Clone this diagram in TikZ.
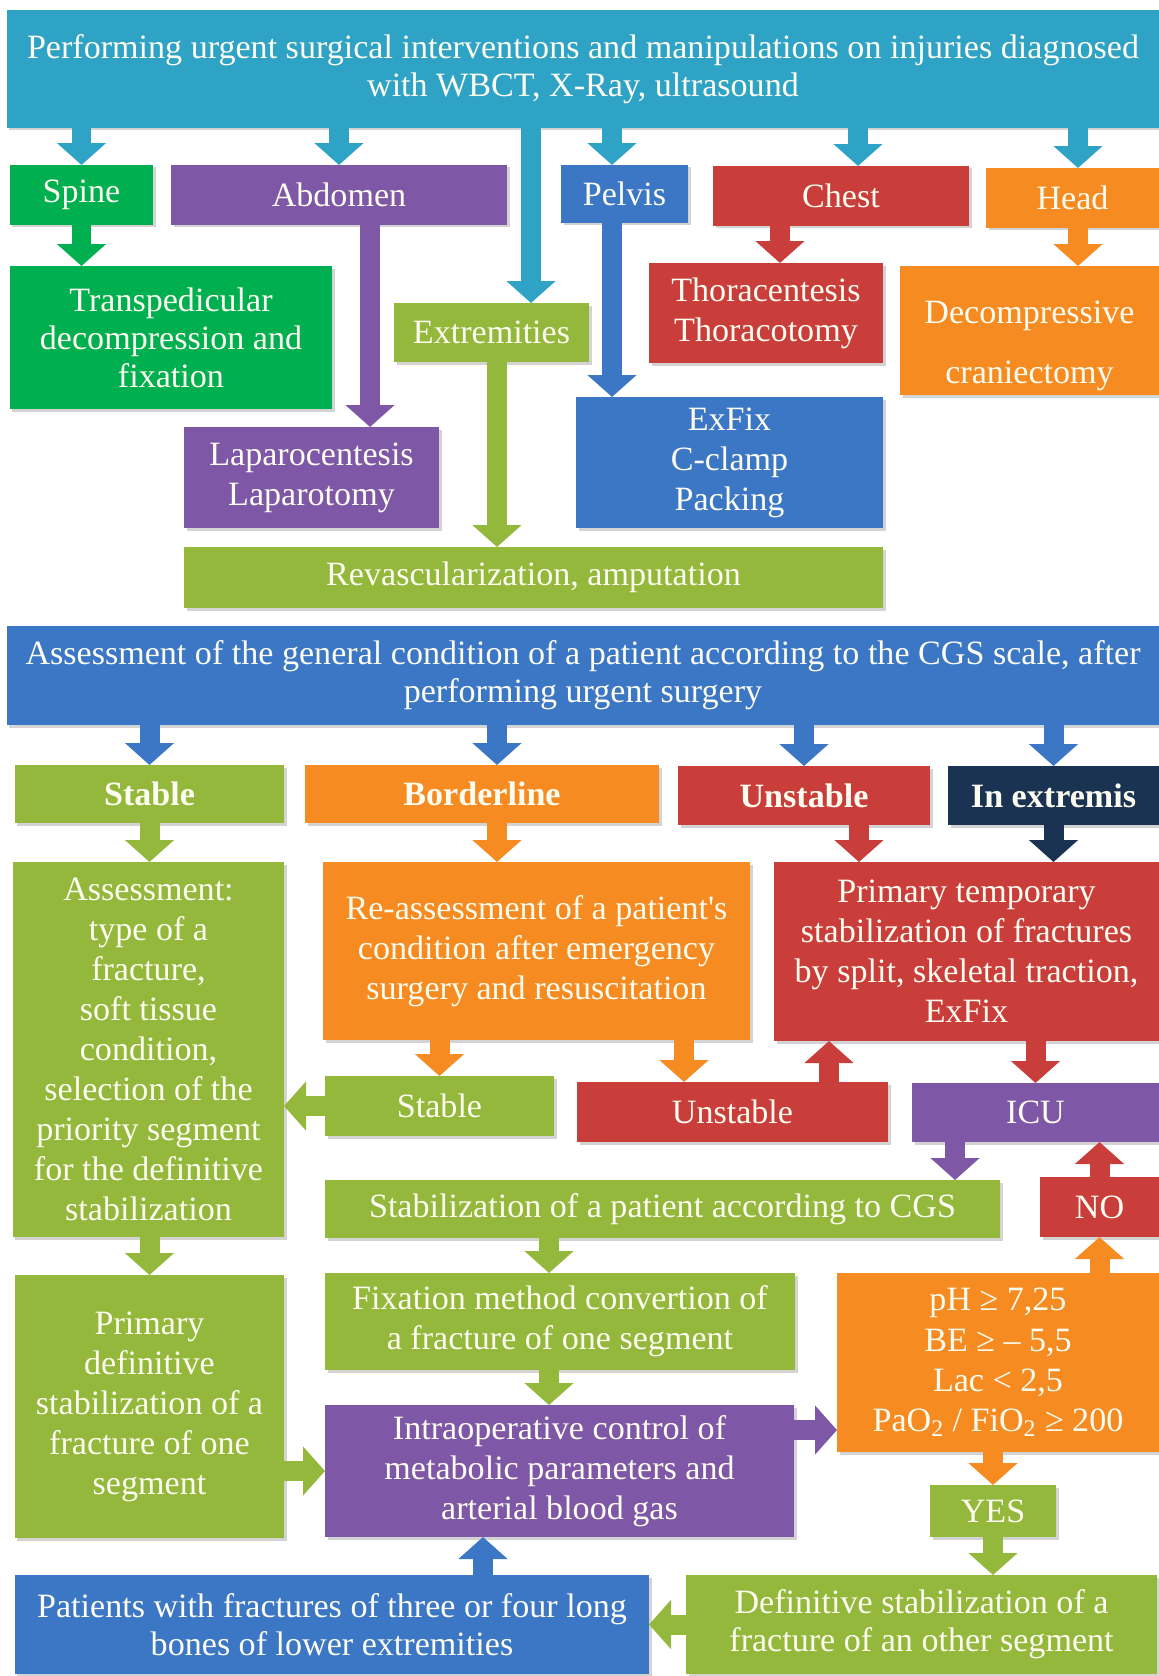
\documentclass[tikz,border=0pt]{standalone}
\usepackage{fontspec}
\setmainfont{Liberation Serif}
\usetikzlibrary{arrows.meta, shadows}

\definecolor{cteal}{RGB}{46,163,198}
\definecolor{cgreen}{RGB}{0,176,80}
\definecolor{cpurple}{RGB}{126,87,166}
\definecolor{cblue}{RGB}{59,119,196}
\definecolor{cred}{RGB}{201,62,58}
\definecolor{corange}{RGB}{246,139,34}
\definecolor{clime}{RGB}{147,184,60}
\definecolor{cnavy}{RGB}{26,51,82}
\definecolor{ctext}{RGB}{253,252,240}

\tikzstyle{block} = [rectangle, inner sep=0pt, outer sep=0pt, text=ctext, align=center,
font=\fontsize{19.4}{22.8}\selectfont, drop shadow={opacity=0.35, shadow xshift=0.05cm, shadow yshift=-0.05cm}]
\tikzstyle{tight} = [font=\fontsize{19.4}{21.6}\selectfont]
\tikzstyle{line} = [draw, line width=0.4cm, -{Triangle[width=0.96cm, length=0.44cm]}]
\tikzset{wh/.style 2 args={minimum width=#1*0.02cm, minimum height=#2*0.02cm}}

\begin{document}
\begin{tikzpicture}[x=0.02cm, y=-0.02cm]
	\useasboundingbox (0,0) rectangle (1159,1676);
	
	% Place nodes
	\node [block, tight, fill=cteal, wh={1152}{118}] (Urgent) at (583,69) {Performing urgent surgical interventions and manipulations on injuries diagnosed\\with WBCT, X-Ray, ultrasound};
	\node [block, fill=cgreen, wh={143}{60}] (Spine) at (81.5,195) {Spine};
	\node [block, fill=cpurple, wh={336}{60}] (Abdomen) at (339,195) {Abdomen};
	\node [block, fill=cblue, wh={127}{58}] (Pelvis) at (624.5,194) {Pelvis};
	\node [block, fill=cred, wh={256}{60}] (Chest) at (841,196) {Chest};
	\node [block, fill=corange, wh={173}{60}] (Head) at (1072.5,198) {Head};
	\node [block, tight, fill=cgreen, wh={322}{143}] (Transp) at (171,337.5) {Transpedicular\\decompression and\\fixation};
	\node [block, fill=clime, wh={195}{59}] (Extrem) at (491.5,332.5) {Extremities};
	\node [block, fill=cred, wh={234}{100}] (Thora) at (766,313) {Thoracentesis\\Thoracotomy};
	\node [block, fill=corange, wh={259}{129}] (Decomp) at (1029.5,330.5) {\mbox{}\\[0.25cm]Decompressive\\[0.4cm]craniectomy};
	\node [block, fill=cpurple, wh={255}{101}] (Laparo) at (311.5,477.5) {Laparocentesis\\Laparotomy};
	\node [block, fill=cblue, wh={307}{131}] (ExFix) at (729.5,462.5) {ExFix\\C-clamp\\Packing};
	\node [block, fill=clime, wh={699}{61}] (Revasc) at (533.5,577.5) {Revascularization, amputation};
	\node [block, tight, fill=cblue, wh={1152}{99}] (CGS) at (583,675.5) {Assessment of the general condition of a patient according to the CGS scale, after\\performing urgent surgery};
	\node [block, fill=clime, wh={269}{58}] (Stable) at (149.5,794) {\textbf{Stable}};
	\node [block, fill=corange, wh={354}{58}] (Border) at (482,794) {\textbf{Borderline}};
	\node [block, fill=cred, wh={252}{59}] (Unstable) at (804,795.5) {\textbf{Unstable}};
	\node [block, fill=cnavy, wh={211}{59}] (Extremis) at (1053.5,795.5) {\textbf{In extremis}};
	\node [block, fill=clime, wh={271}{375}] (AssessL) at (148.5,1049.5) {Assessment:\\type of a\\fracture,\\soft tissue\\condition,\\selection of the\\priority segment\\for the definitive\\stabilization};
	\node [block, fill=corange, wh={427}{178}] (Reassess) at (536.5,951) {Re-assessment of a patient\textquotesingle s\\condition after emergency\\surgery and resuscitation};
	\node [block, fill=cred, wh={385}{179}] (PrimTemp) at (966.5,951.5) {Primary temporary\\stabilization of fractures\\by split, skeletal traction,\\ExFix};
	\node [block, fill=clime, wh={229}{60}] (StableS) at (439.5,1106) {Stable};
	\node [block, fill=cred, wh={311}{60}] (UnstableS) at (732.5,1112) {Unstable};
	\node [block, fill=cpurple, wh={247}{59}] (ICU) at (1035.5,1112.5) {ICU};
	\node [block, fill=clime, wh={675}{58}] (StabCGS) at (662.5,1209) {Stabilization of a patient according to CGS};
	\node [block, fill=cred, wh={119}{60}] (No) at (1099.5,1207) {NO};
	\node [block, fill=clime, wh={269}{263}] (PrimDef) at (149.5,1406.5) {Primary\\definitive\\stabilization of a\\fracture of one\\segment};
	\node [block, fill=clime, wh={470}{97}] (FixConv) at (560,1321.5) {Fixation method convertion of\\a fracture of one segment};
	\node [block, fill=corange, wh={322}{179}] (Gas) at (998,1362.5) {pH ≥ 7,25\\BE ≥ – 5,5\\Lac < 2,5\\PaO\textsubscript{2} / FiO\textsubscript{2} ≥ 200};
	\node [block, fill=cpurple, wh={469}{132}] (Intraop) at (559.5,1471) {Intraoperative control of\\metabolic parameters and\\arterial blood gas};
	\node [block, fill=clime, wh={126}{52}] (Yes) at (993,1511) {YES};
	\node [block, tight, fill=cblue, wh={634}{99}] (Patients) at (332,1624.5) {Patients with fractures of three or four long\\bones of lower extremities};
	\node [block, tight, fill=clime, wh={471}{99}] (DefOther) at (921.5,1624.5) {Definitive stabilization of a\\fracture of an other segment};
	
	% lanes of the arrows
	\coordinate (xExt) at (531,0);
	\coordinate (xPelvis) at (612,0);
	\coordinate (xChest) at (858,0);
	\coordinate (xHead) at (1078,0);
	\coordinate (xAbd) at (370,0);
	\coordinate (xRevasc) at (497,0);
	\coordinate (xThora) at (780,0);
	\coordinate (xBorder) at (497,0);
	\coordinate (xUnst) at (859,0);
	\coordinate (xUnstS) at (684,0);
	\coordinate (xBack) at (829,0);
	\coordinate (xICU) at (955,0);
	\coordinate (xFix) at (549,0);
	\coordinate (xPat) at (483,0);
	\coordinate (yGas) at (0,1430);
	
	%Draw edges
	\path [line, draw=cteal] (Urgent.south -| Spine.north) -- (Spine.north);
	\path [line, draw=cteal] (Urgent.south -| Abdomen.north) -- (Abdomen.north);
	\path [line, draw=cteal] (Urgent.south -| xPelvis) -- (Pelvis.north -| xPelvis);
	\path [line, draw=cteal] (Urgent.south -| xChest) -- (Chest.north -| xChest);
	\path [line, draw=cteal] (Urgent.south -| xHead) -- (Head.north -| xHead);
	\path [line, draw=cteal] (Urgent.south -| xExt) -- (Extrem.north -| xExt);
	\path [line, draw=cgreen] (Spine.south) -- (Transp.north -| Spine.south);
	\path [line, draw=cpurple] (Abdomen.south -| xAbd) -- (Laparo.north -| xAbd);
	\path [line, draw=clime] (Extrem.south -| xRevasc) -- (Revasc.north -| xRevasc);
	\path [line, draw=cblue] (Pelvis.south -| xPelvis) -- (ExFix.north -| xPelvis);
	\path [line, draw=cred] (Chest.south -| xThora) -- (Thora.north -| xThora);
	\path [line, draw=corange] (Head.south -| xHead) -- (Decomp.north -| xHead);
	
	\path [line, draw=cblue] (CGS.south -| Stable.north) -- (Stable.north);
	\path [line, draw=cblue] (CGS.south -| xBorder) -- (Border.north -| xBorder);
	\path [line, draw=cblue] (CGS.south -| Unstable.north) -- (Unstable.north);
	\path [line, draw=cblue] (CGS.south -| Extremis.north) -- (Extremis.north);
	\path [line, draw=clime] (Stable.south) -- (AssessL.north -| Stable.south);
	\path [line, draw=corange] (Border.south -| xBorder) -- (Reassess.north -| xBorder);
	\path [line, draw=cred] (Unstable.south -| xUnst) -- (PrimTemp.north -| xUnst);
	\path [line, draw=cnavy] (Extremis.south) -- (PrimTemp.north -| Extremis.south);
	\path [line, draw=corange] (Reassess.south -| StableS.north) -- (StableS.north);
	\path [line, draw=corange] (Reassess.south -| xUnstS) -- (UnstableS.north -| xUnstS);
	\path [line, draw=cred] (UnstableS.north -| xBack) -- (PrimTemp.south -| xBack);
	\path [line, draw=cred] (PrimTemp.south -| ICU.north) -- (ICU.north);
	\path [line, draw=clime] (StableS.west) -- (AssessL.east |- StableS.west);
	\path [line, draw=cpurple] (ICU.south -| xICU) -- (StabCGS.north -| xICU);
	\path [line, draw=cred] (No.north) -- (ICU.south -| No.north);
	\path [line, draw=clime] (AssessL.south -| PrimDef.north) -- (PrimDef.north);
	\path [line, draw=clime] (StabCGS.south -| xFix) -- (FixConv.north -| xFix);
	\path [line, draw=clime] (FixConv.south -| xFix) -- (Intraop.north -| xFix);
	\path [line, draw=clime] (PrimDef.east |- Intraop.west) -- (Intraop.west);
	\path [line, draw=cpurple] (Intraop.east |- yGas) -- (Gas.west |- yGas);
	\path [line, draw=corange] (Gas.north -| No.south) -- (No.south);
	\path [line, draw=corange] (Gas.south -| Yes.north) -- (Yes.north);
	\path [line, draw=clime] (Yes.south) -- (DefOther.north -| Yes.south);
	\path [line, draw=clime] (DefOther.west) -- (Patients.east |- DefOther.west);
	\path [line, draw=cblue] (Patients.north -| xPat) -- (Intraop.south -| xPat);
	
\end{tikzpicture}
\end{document}
